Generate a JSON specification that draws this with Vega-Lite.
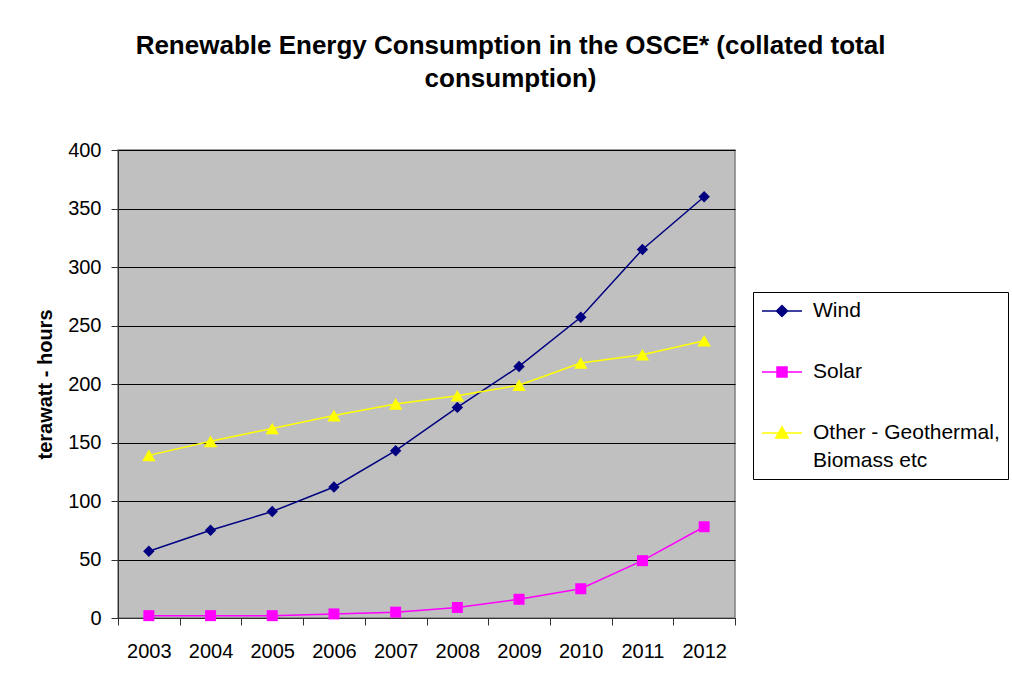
{
  "$schema": "https://vega.github.io/schema/vega-lite/v6.json",
  "width": 617,
  "height": 468,
  "autosize": {"type": "none"},
  "padding": {"left": 118, "top": 150, "right": 277, "bottom": 66},
  "background": "white",
  "title": {
    "text": ["Renewable Energy Consumption in the OSCE* (collated total", "consumption)"],
    "font": "Liberation Sans",
    "fontSize": 26,
    "fontWeight": "bold",
    "color": "black",
    "lineHeight": 33,
    "anchor": "middle",
    "dx": 84,
    "offset": 48
  },
  "data": {
    "values": [
      {"year": "2003", "series": "Wind", "value": 57},
      {"year": "2004", "series": "Wind", "value": 75},
      {"year": "2005", "series": "Wind", "value": 91},
      {"year": "2006", "series": "Wind", "value": 112},
      {"year": "2007", "series": "Wind", "value": 143},
      {"year": "2008", "series": "Wind", "value": 180},
      {"year": "2009", "series": "Wind", "value": 215},
      {"year": "2010", "series": "Wind", "value": 257},
      {"year": "2011", "series": "Wind", "value": 315},
      {"year": "2012", "series": "Wind", "value": 360},
      {"year": "2003", "series": "Solar", "value": 2},
      {"year": "2004", "series": "Solar", "value": 2},
      {"year": "2005", "series": "Solar", "value": 2},
      {"year": "2006", "series": "Solar", "value": 3.5},
      {"year": "2007", "series": "Solar", "value": 5},
      {"year": "2008", "series": "Solar", "value": 9},
      {"year": "2009", "series": "Solar", "value": 16},
      {"year": "2010", "series": "Solar", "value": 25},
      {"year": "2011", "series": "Solar", "value": 49},
      {"year": "2012", "series": "Solar", "value": 78},
      {"year": "2003", "series": "Other - Geothermal, Biomass etc", "value": 139},
      {"year": "2004", "series": "Other - Geothermal, Biomass etc", "value": 151},
      {"year": "2005", "series": "Other - Geothermal, Biomass etc", "value": 162},
      {"year": "2006", "series": "Other - Geothermal, Biomass etc", "value": 173},
      {"year": "2007", "series": "Other - Geothermal, Biomass etc", "value": 183},
      {"year": "2008", "series": "Other - Geothermal, Biomass etc", "value": 190},
      {"year": "2009", "series": "Other - Geothermal, Biomass etc", "value": 199},
      {"year": "2010", "series": "Other - Geothermal, Biomass etc", "value": 218},
      {"year": "2011", "series": "Other - Geothermal, Biomass etc", "value": 225},
      {"year": "2012", "series": "Other - Geothermal, Biomass etc", "value": 237}
    ]
  },
  "encoding": {
    "x": {
      "field": "year", "type": "ordinal",
      "scale": {"type": "band", "paddingInner": 0, "paddingOuter": 0},
      "axis": {
        "title": null, "labelAngle": 0, "tickBand": "extent",
        "labelFont": "Liberation Sans", "labelFontSize": 20, "labelColor": "black",
        "labelPadding": 16, "tickSize": 7, "tickColor": "#303030", "domainColor": "#303030",
        "grid": false
      }
    },
    "y": {
      "field": "value", "type": "quantitative",
      "scale": {"domain": [0, 400], "nice": false},
      "axis": {
        "title": "terawatt - hours", "values": [0, 50, 100, 150, 200, 250, 300, 350, 400],
        "titleFont": "Liberation Sans", "titleFontSize": 20, "titleFontWeight": "bold", "titleColor": "black",
        "titlePadding": 12,
        "labelFont": "Liberation Sans", "labelFontSize": 20, "labelColor": "black", "labelPadding": 10,
        "tickSize": 7, "tickColor": "#303030", "domainColor": "#303030",
        "grid": true, "gridColor": "black", "gridWidth": 1.1, "gridOpacity": 1
      }
    },
    "color": {
      "field": "series", "type": "nominal",
      "scale": {"domain": ["Wind", "Solar", "Other - Geothermal, Biomass etc"], "range": ["#000080", "#FF00FF", "#FFFF00"]},
      "legend": {
        "title": null, "orient": "none", "legendX": 635, "legendY": 142,
        "strokeColor": "black", "fillColor": "white", "padding": 8,
        "labelFont": "Liberation Sans", "labelFontSize": 21, "labelColor": "black",
        "labelLimit": 260, "rowPadding": 40, "symbolSize": 400, "symbolStrokeWidth": 1.5,
        "symbolOffset": 10, "labelOffset": 20,
        "labelExpr": "datum.label == 'Other - Geothermal, Biomass etc' ? ['Other - Geothermal,', 'Biomass etc'] : datum.label",
        "encode": {
          "symbols": {
            "update": {
              "shape": {"signal": "datum.value === 'Wind' ? 'M-2,0L2,0M0,-0.55L0.55,0L0,0.55L-0.55,0Z' : datum.value === 'Solar' ? 'M-2,0L2,0M-0.5,-0.5L0.5,-0.5L0.5,0.5L-0.5,0.5Z' : 'M-2,0L2,0M0,-0.62L0.62,0.5L-0.62,0.5Z'"},
              "stroke": {"signal": "datum.value === 'Wind' ? '#000080' : datum.value === 'Solar' ? '#FF00FF' : '#FFFF00'"},
              "fill": {"signal": "datum.value === 'Wind' ? '#000080' : datum.value === 'Solar' ? '#FF00FF' : '#FFFF00'"},
              "strokeWidth": {"value": 1.5},
              "size": {"value": 400},
              "opacity": {"value": 1}
            }
          },
          "labels": {
            "update": {"lineHeight": {"value": 28}}
          }
        }
      }
    }
  },
  "layer": [
    {"mark": {"type": "line", "strokeWidth": 1.5}},
    {
      "mark": {
        "type": "point", "filled": true, "opacity": 1,
        "shape": {"expr": "datum.series === 'Wind' ? 'diamond' : datum.series === 'Solar' ? 'square' : 'triangle-up'"},
        "size": {"expr": "datum.series === 'Wind' ? 130 : datum.series === 'Solar' ? 121 : 180"}
      }
    }
  ],
  "config": {
    "view": {"fill": "#C0C0C0", "stroke": "#808080", "strokeWidth": 1.5}
  }
}
